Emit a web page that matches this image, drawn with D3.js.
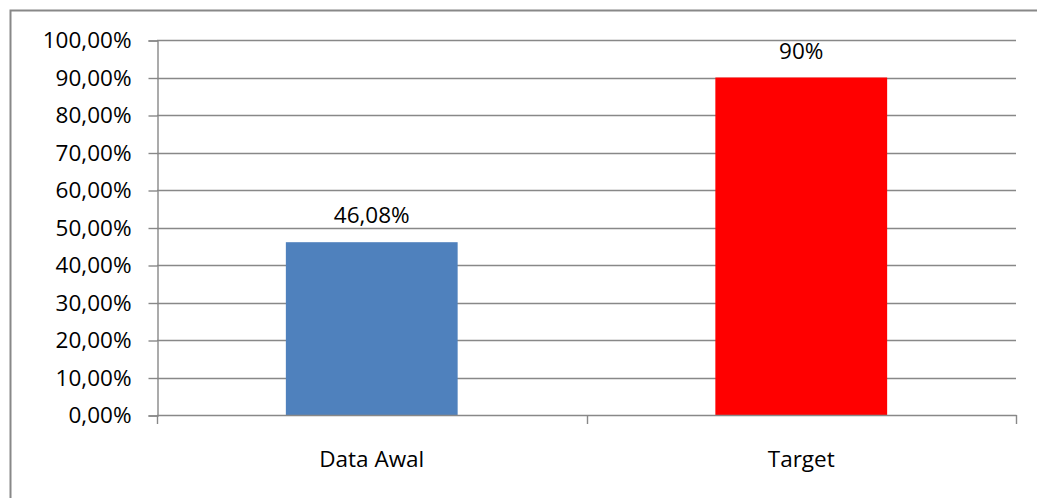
<!DOCTYPE html>
<html>
<head>
<meta charset="utf-8">
<script src="https://cdn.jsdelivr.net/npm/d3@7/dist/d3.min.js"></script>
<style>
  html, body { margin: 0; padding: 0; background: #fff; }
  svg { display: block; }
  text { font-family: "Open Sans", "Noto Sans", sans-serif; fill: #000; }
</style>
</head>
<body>
<svg id="chart" width="1037" height="498"></svg>
<script>
// Categories, values and how each value is written on its bar
const categories = ["Data Awal", "Target"];
const values = [0.4608, 0.90];
const labelFormats = [".2%", ".0%"];
const barColors = ["#4F81BD", "#FF0000"];
const yTicks = [0, 0.1, 0.2, 0.3, 0.4, 0.5, 0.6, 0.7, 0.8, 0.9, 1.0];

const locale = d3.formatLocale({ decimal: ",", thousands: ".", grouping: [3], currency: ["", ""] });
const tickFmt = locale.format(".2%");

const W = 1037, H = 498;
const plot = { left: 157, right: 1016, top: 40, bottom: 415 };
const grey = "#888888";
const fontSize = 22.5;

const svg = d3.select("#chart");

// Outer chart frame
svg.append("rect")
  .attr("x", 10.5).attr("y", 10.5)
  .attr("width", W + 20).attr("height", H + 20)
  .attr("fill", "none").attr("stroke", grey).attr("stroke-width", 2);

const x = d3.scaleBand()
  .domain(categories)
  .range([plot.left, plot.right])
  .paddingInner(0.6)
  .paddingOuter(0.3);

const y = d3.scaleLinear().domain([0, 1]).range([plot.bottom, plot.top]);

// Horizontal gridlines
svg.append("g").selectAll("line")
  .data(yTicks.filter(t => t > 0))
  .join("line")
  .attr("x1", plot.left).attr("x2", plot.right)
  .attr("y1", d => Math.round(y(d)) + 0.5).attr("y2", d => Math.round(y(d)) + 0.5)
  .attr("stroke", grey).attr("stroke-width", 1.4);

// Y axis
const yAxis = svg.append("g")
  .attr("transform", `translate(${plot.left + 0.5},0.5)`)
  .call(d3.axisLeft(y).tickValues(yTicks).tickFormat(tickFmt).tickSize(9).tickPadding(17));
yAxis.select(".domain").attr("stroke", grey).attr("stroke-width", 1.4);
yAxis.selectAll(".tick line").attr("stroke", grey).attr("stroke-width", 1.4);
yAxis.selectAll(".tick text")
  .attr("font-size", fontSize)
  .attr("font-family", null)
  .attr("fill", "#000")
  .attr("dy", "0.32em");

// Bars
svg.append("g").selectAll("rect")
  .data(values)
  .join("rect")
  .attr("x", (d, i) => x(categories[i]))
  .attr("y", d => y(d))
  .attr("width", x.bandwidth())
  .attr("height", d => y(0) - y(d))
  .attr("fill", (d, i) => barColors[i]);

// X axis line with tick marks at category boundaries
const bounds = d3.range(categories.length + 1).map(i => plot.left + i * x.step());
const xAxis = svg.append("g");
xAxis.append("line")
  .attr("x1", plot.left).attr("x2", plot.right + 0.5)
  .attr("y1", y(0) + 0.5).attr("y2", y(0) + 0.5)
  .attr("stroke", grey).attr("stroke-width", 1.4);
xAxis.selectAll("line.tick")
  .data(bounds)
  .join("line")
  .attr("class", "tick")
  .attr("x1", d => Math.round(d) + 0.5).attr("x2", d => Math.round(d) + 0.5)
  .attr("y1", y(0)).attr("y2", y(0) + 9)
  .attr("stroke", grey).attr("stroke-width", 1.4);

// Category labels
svg.append("g").selectAll("text")
  .data(categories)
  .join("text")
  .attr("x", d => x(d) + x.bandwidth() / 2)
  .attr("y", y(0) + 52)
  .attr("text-anchor", "middle")
  .attr("font-size", fontSize)
  .text(d => d);

// Value labels above bars
svg.append("g").selectAll("text")
  .data(values)
  .join("text")
  .attr("x", (d, i) => x(categories[i]) + x.bandwidth() / 2)
  .attr("y", d => y(d) - 19)
  .attr("text-anchor", "middle")
  .attr("font-size", fontSize)
  .text((d, i) => locale.format(labelFormats[i])(d));
</script>
</body>
</html>
